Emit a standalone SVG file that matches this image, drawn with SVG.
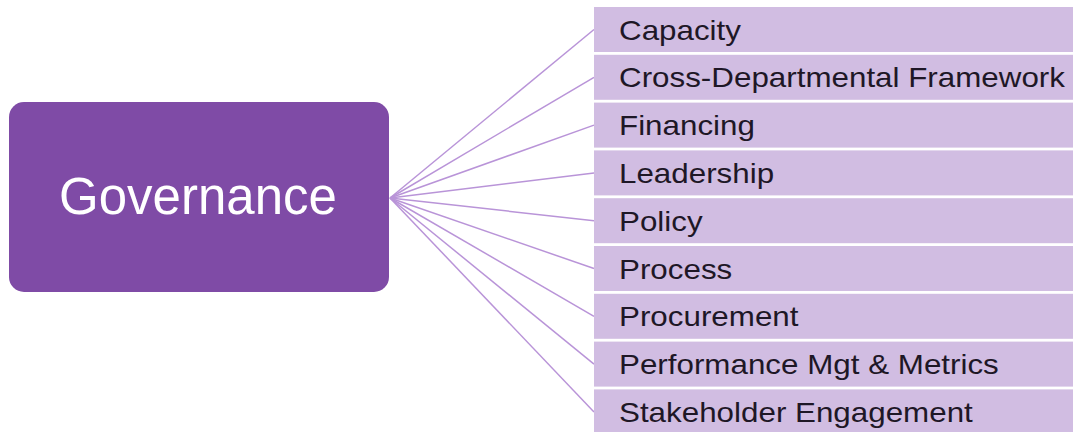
<svg xmlns="http://www.w3.org/2000/svg" width="1076" height="432" viewBox="0 0 1076 432">
<style>
.item rect{fill:#d1bde2}
.item text{font-family:"Liberation Sans",Arial,sans-serif;font-size:28px;fill:#1e1726}
.conn line{stroke:#b994d8;stroke-width:1.5}
</style>
<rect width="1076" height="432" fill="#ffffff"/>
<g id="connectors" class="conn">
<line x1="390" y1="198" x2="594" y2="29.5"/>
<line x1="390" y1="198" x2="594" y2="77.3"/>
<line x1="390" y1="198" x2="594" y2="125.1"/>
<line x1="390" y1="198" x2="594" y2="172.9"/>
<line x1="390" y1="198" x2="594" y2="220.7"/>
<line x1="390" y1="198" x2="594" y2="268.5"/>
<line x1="390" y1="198" x2="594" y2="316.3"/>
<line x1="390" y1="198" x2="594" y2="364.1"/>
<line x1="390" y1="198" x2="594" y2="411.9"/>
</g>
<g id="governance">
<rect x="9" y="102" width="380" height="190" rx="15" fill="#7f4ba6"/>
<text x="198" y="214" text-anchor="middle" font-family="'Liberation Sans',Arial,sans-serif" font-size="51" fill="#ffffff">Governance</text>
</g>
<g id="capacity" class="item"><rect x="594" y="7" width="479" height="45"/><text transform="matrix(1.12 0 0 1 619 39.5)">Capacity</text></g>
<g id="cross-departmental" class="item"><rect x="594" y="54.8" width="479" height="45"/><text transform="matrix(1.12 0 0 1 619 87.3)">Cross-Departmental Framework</text></g>
<g id="financing" class="item"><rect x="594" y="102.6" width="479" height="45"/><text transform="matrix(1.12 0 0 1 619 135.1)">Financing</text></g>
<g id="leadership" class="item"><rect x="594" y="150.4" width="479" height="45"/><text transform="matrix(1.12 0 0 1 619 182.9)">Leadership</text></g>
<g id="policy" class="item"><rect x="594" y="198.2" width="479" height="45"/><text transform="matrix(1.12 0 0 1 619 230.7)">Policy</text></g>
<g id="process" class="item"><rect x="594" y="246" width="479" height="45"/><text transform="matrix(1.12 0 0 1 619 278.5)">Process</text></g>
<g id="procurement" class="item"><rect x="594" y="293.8" width="479" height="45"/><text transform="matrix(1.12 0 0 1 619 326.3)">Procurement</text></g>
<g id="performance" class="item"><rect x="594" y="341.6" width="479" height="45"/><text transform="matrix(1.12 0 0 1 619 374.1)">Performance Mgt &amp; Metrics</text></g>
<g id="stakeholder" class="item"><rect x="594" y="389.4" width="479" height="45"/><text transform="matrix(1.12 0 0 1 619 421.9)">Stakeholder Engagement</text></g>
</svg>
